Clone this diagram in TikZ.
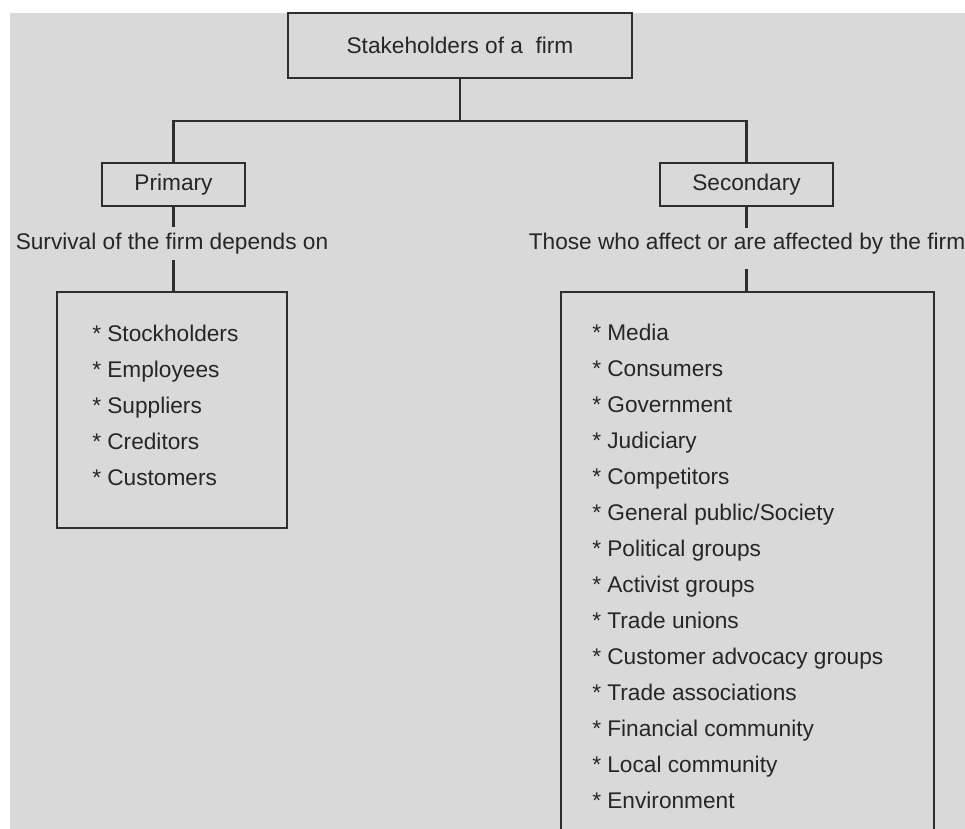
\documentclass[tikz,border=0pt]{standalone}
\usepackage{fontspec}
\setmainfont{Liberation Sans}
\definecolor{panel}{HTML}{D9D9D9}
\definecolor{ink}{HTML}{262626}
\definecolor{rule}{HTML}{2E2E2E}
\begin{document}
\begin{tikzpicture}[x=0.75pt,y=-0.75pt,
  txt/.style={font=\fontsize{17}{20}\selectfont, text=ink},
  box/.style={draw=rule, line width=1.6pt, fill=panel, inner sep=0pt, txt},
  link/.style={draw=rule, line width=1.6pt},
  item/.style={txt, anchor=base west, inner sep=0pt},
  lbl/.style={txt, anchor=base, inner sep=0pt}]
  \useasboundingbox (0,0) rectangle (965,829);
  \fill[panel] (10,13) rectangle (965,829);

  % top level
  \node[box, minimum width=258pt, minimum height=48.75pt] (top) at (460,45.5) {Stakeholders of a\ \ firm};
  \coordinate (j) at (460,121);

  % two groups
  \node[box, minimum width=107.25pt, minimum height=32.25pt] (prim) at (173.5,184.5) {Primary};
  \node[box, minimum width=129.75pt, minimum height=32.25pt] (sec) at (746.5,184.5) {Secondary};

  \draw[link] (top.south) -- (j);
  \draw[link] (prim.north) |- (j) -| (sec.north);

  % descriptions
  \node[lbl] (pl) at (172,249) {Survival of the firm depends on};
  \node[lbl] (sl) at (747,249) {Those who affect or are affected by the firm};
  \coordinate (pla) at (173.5,227);
  \coordinate (plb) at (173.5,260);
  \coordinate (sla) at (746.5,228);
  \coordinate (slb) at (746.5,269);

  % member lists
  \node[box, minimum width=172.5pt, minimum height=177pt] (plist) at (172,410) {};
  \node[box, minimum width=279.75pt, minimum height=420pt] (slist) at (747.5,572) {};

  \draw[link] (prim.south) -- (pla);
  \draw[link] (plb) -- (plb |- plist.north);
  \draw[link] (sec.south) -- (sla);
  \draw[link] (slb) -- (slb |- slist.north);

  \foreach \t [count=\i] in {Stockholders, Employees, Suppliers, Creditors, Customers}
    \node[item] (p\i) at (92,{341+36*(\i-1)}) {* \t};

  \foreach \t [count=\i] in {Media, Consumers, Government, Judiciary, Competitors,
      General public/Society, Political groups, Activist groups, Trade unions,
      Customer advocacy groups, Trade associations, Financial community,
      Local community, Environment}
    \node[item] (s\i) at (592,{340+36*(\i-1)}) {* \t};
\end{tikzpicture}
\end{document}
